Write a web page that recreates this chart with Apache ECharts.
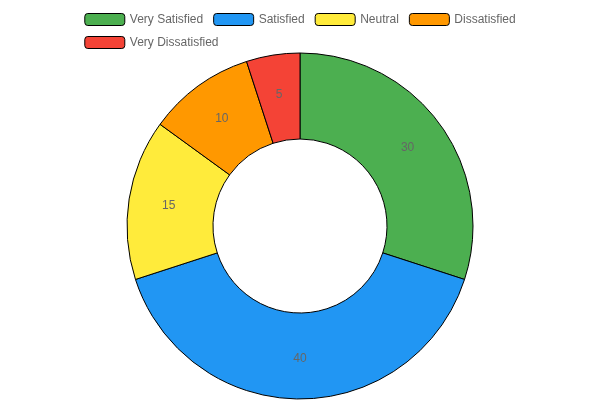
<!DOCTYPE html>
<html><head><meta charset="utf-8">
<script src="https://cdn.jsdelivr.net/npm/echarts@6/dist/echarts.min.js"></script>
<style>html,body{margin:0;padding:0;}#c{width:600px;height:400px;}</style>
</head><body><div id="c"></div>
<script>
const categories = ['Very Satisfied','Satisfied','Neutral','Dissatisfied','Very Dissatisfied'];
const values = [30,40,15,10,5];
const colors = ['#4caf50','#2196f3','#ffeb3b','#ff9800','#f44336'];
const chart = echarts.init(document.getElementById('c'));
chart.setOption({
  animation:false,
  color: colors,
  legend:{
    top:8, left:'center', width:460,
    itemWidth:40, itemHeight:12, itemGap:10,
    itemStyle:{borderColor:'#000',borderWidth:1},
    textStyle:{color:'#666',fontSize:12,fontFamily:'Arial, Liberation Sans, sans-serif'},
    data:categories
  },
  series:[{
    type:'pie',
    center:[300,226],
    radius:[87,173],
    startAngle:90,
    itemStyle:{borderColor:'#000',borderWidth:1},
    label:{show:true,position:'inside',color:'#666',fontSize:12,fontFamily:'Arial, Liberation Sans, sans-serif',formatter:'{c}'},
    labelLine:{show:false},
    emphasis:{disabled:true},
    data:categories.map((n,i)=>({name:n,value:values[i]}))
  }]
});
</script></body></html>
